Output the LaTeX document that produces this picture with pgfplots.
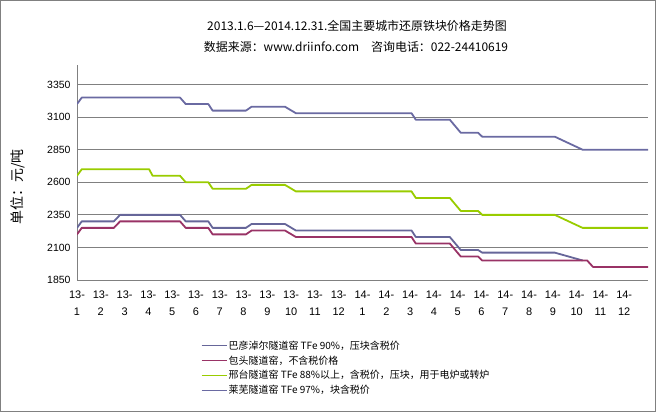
\documentclass[border=0pt]{standalone}
\usepackage{fontspec}
\setmainfont{Liberation Sans}
\newfontfamily\cjk{Noto Sans CJK SC}
\usepackage{pgfplots}
\pgfplotsset{compat=1.18}
\definecolor{purp}{HTML}{666699}
\definecolor{purp2}{HTML}{6A6AA2}
\definecolor{plum}{HTML}{993366}
\definecolor{lime}{HTML}{99CC00}
\definecolor{gridg}{HTML}{808080}
\begin{document}
\begin{tikzpicture}[x=1bp,y=1bp]
\useasboundingbox (0,0) rectangle (656,412);
\draw[gridg, line width=1bp] (0.5,0.5) rectangle (655.5,411.5);
\node[font=\cjk\fontsize{12}{14}\selectfont] at (357,386) {2013.1.6—2014.12.31.全国主要城市还原铁块价格走势图};
\node[font=\cjk\fontsize{12}{14}\selectfont] at (356,365) {数据来源：www.driinfo.com\quad 咨询电话：022-24410619};
\node[rotate=90, font=\cjk\fontsize{14}{16}\selectfont] at (18,225) {单位：元/吨};
\begin{axis}[at={(77bp,132bp)}, anchor=south west, scale only axis,
  width=571bp, height=215bp,
  xmin=0, xmax=24, ymin=1850, ymax=3500,
  ytick={1850,2100,2350,2600,2850,3100,3350},
  ymajorgrids, grid style={gridg, line width=1bp},
  xtick={0,...,23},
  xticklabels={13-\\1,13-\\2,13-\\3,13-\\4,13-\\5,13-\\6,13-\\7,13-\\8,13-\\9,13-\\10,13-\\11,13-\\12,14-\\1,14-\\2,14-\\3,14-\\4,14-\\5,14-\\6,14-\\7,14-\\8,14-\\9,14-\\10,14-\\11,14-\\12},
  axis x line*=bottom, axis y line*=left,
  axis line style={gridg, line width=1bp, -},
  major tick length=0pt,
  /pgf/number format/assume math mode=true,
  /pgf/number format/1000 sep={},
  yticklabel style={font=\fontsize{10.5}{12}\selectfont, xshift=-3bp},
  xticklabel style={font=\fontsize{11}{17}\selectfont, align=center, yshift=-7bp},
  legend style={at={(0.212,-0.265)}, anchor=north west, draw=none, fill=none,
    font=\cjk\fontsize{10}{12}\selectfont, row sep=2bp, cells={anchor=west},
    nodes={inner sep=1.5bp}},
  legend image code/.code={\draw[#1, line width=1bp] (0bp,0bp) -- (25bp,0bp);},
  every axis plot/.append style={line width=1.8bp, line join=round},
]
\addplot[purp, mark=none] coordinates {(0,2250) (0.2,2300) (1.55,2300) (1.81,2350) (4.33,2350) (4.57,2300) (5.52,2300) (5.70,2250) (7.10,2250) (7.34,2280) (8.74,2280) (9.20,2230) (14.06,2230) (14.24,2180) (15.67,2180) (16.13,2080) (16.86,2080) (17.03,2060) (20.08,2060) (21.25,2000)};
\addlegendentry{巴彦淖尔隧道窑 TFe 90\%，压块含税价}
\addplot[plum, mark=none] coordinates {(0,2200) (0.2,2250) (1.55,2250) (1.81,2300) (4.33,2300) (4.57,2250) (5.52,2250) (5.70,2200) (7.10,2200) (7.34,2230) (8.74,2230) (9.20,2180) (14.06,2180) (14.24,2130) (15.67,2130) (16.13,2030) (16.86,2030) (17.03,2000) (21.44,2000) (21.69,1950) (24,1950)};
\addlegendentry{包头隧道窑，不含税价格}
\addplot[lime, mark=none] coordinates {(0,2650) (0.2,2700) (3.03,2700) (3.18,2650) (4.33,2650) (4.57,2600) (5.52,2600) (5.70,2550) (7.10,2550) (7.34,2580) (8.74,2580) (9.20,2530) (14.06,2530) (14.24,2480) (15.67,2480) (16.13,2380) (16.86,2380) (17.03,2350) (20.08,2350) (21.25,2250) (24,2250)};
\addlegendentry{邢台隧道窑 TFe 88\%以上，含税价，压块，用于电炉或转炉}
\addplot[purp2, mark=none] coordinates {(0,3200) (0.2,3250) (4.33,3250) (4.57,3200) (5.52,3200) (5.70,3150) (7.10,3150) (7.34,3180) (8.74,3180) (9.20,3130) (14.06,3130) (14.24,3080) (15.67,3080) (16.13,2980) (16.86,2980) (17.03,2950) (20.08,2950) (21.25,2850) (24,2850)};
\addlegendentry{莱芜隧道窑 TFe 97\%，块含税价}
\end{axis}
\end{tikzpicture}
\end{document}
